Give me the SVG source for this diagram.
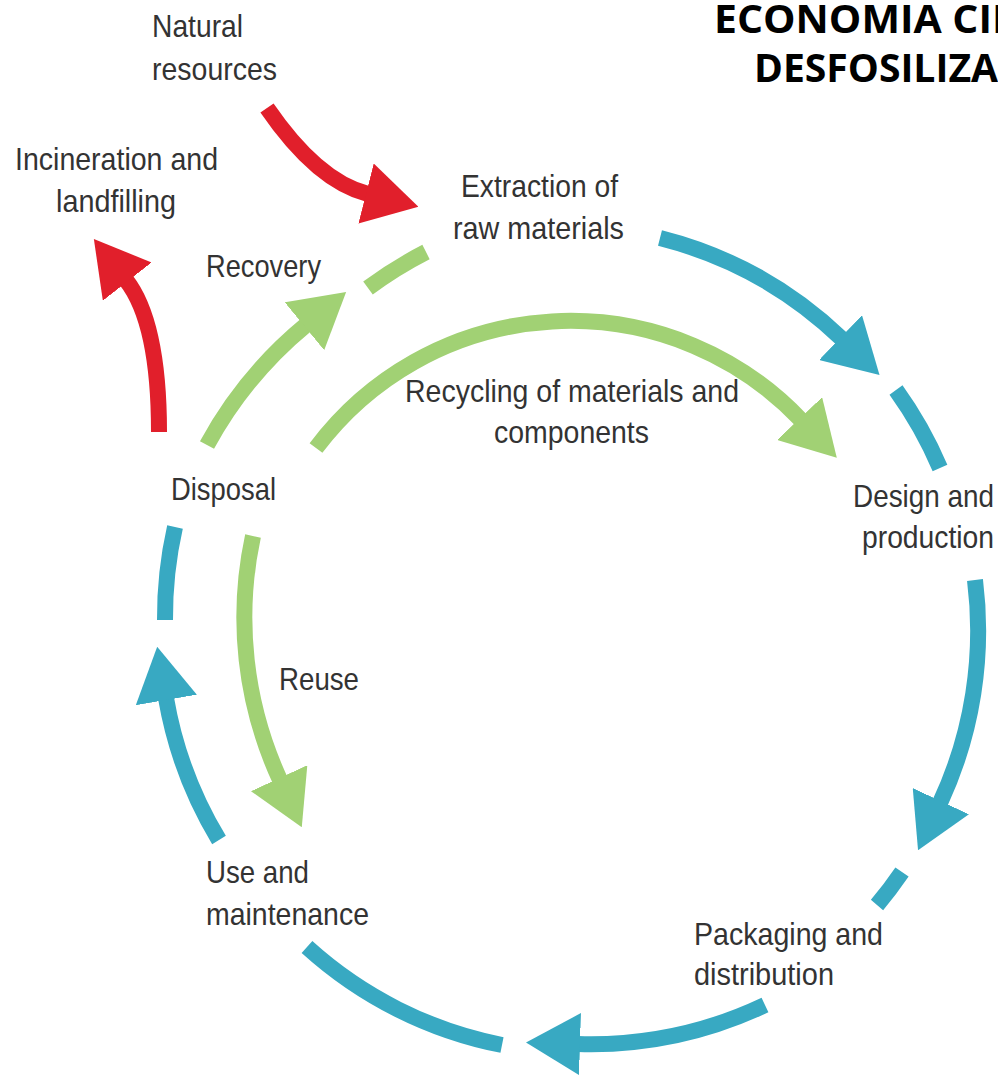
<svg xmlns="http://www.w3.org/2000/svg" width="998" height="1077" viewBox="0 0 998 1077">
  <style>
    .lbl { font-family: "Liberation Sans", Arial, sans-serif; font-size: 32px; fill: #333333; }
    .title { font-family: "Open Sans", "Liberation Sans", sans-serif; font-weight: 700; font-size: 40px; fill: #000000; }
    .flow { fill: none; stroke-width: 16; stroke-linecap: butt; }
    .teal { stroke: #38A9C2; }
    .green { stroke: #A1D174; }
    .red { stroke: #E11F2B; }
  </style>
  <defs>
    <marker id="headTeal" markerUnits="userSpaceOnUse" markerWidth="54" markerHeight="62" refX="2" refY="31" orient="auto">
      <path d="M0,0 L54,31 L0,62 Z" fill="#38A9C2"/>
    </marker>
    <marker id="headGreen" markerUnits="userSpaceOnUse" markerWidth="54" markerHeight="62" refX="2" refY="31" orient="auto">
      <path d="M0,0 L54,31 L0,62 Z" fill="#A1D174"/>
    </marker>
    <marker id="headRed" markerUnits="userSpaceOnUse" markerWidth="54" markerHeight="62" refX="2" refY="31" orient="auto">
      <path d="M0,0 L54,31 L0,62 Z" fill="#E11F2B"/>
    </marker>
  </defs>

  <rect x="0" y="0" width="998" height="1077" fill="#ffffff"/>

  <!-- heading, cut off by the right edge -->
  <g id="heading">
    <text class="title" x="714" y="33" textLength="305" lengthAdjust="spacingAndGlyphs">ECONOMIA CIR</text>
    <text class="title" x="754" y="82" textLength="244" lengthAdjust="spacingAndGlyphs">DESFOSILIZA</text>
  </g>

  <!-- connectors -->
  <g id="connectors">
    <!-- main cycle (teal) -->
    <path class="flow teal" d="M660,238 A408,408 0 0 1 842,339" marker-end="url(#headTeal)"/>
    <path class="flow teal" d="M896,390 A408,408 0 0 1 940,468"/>
    <path class="flow teal" d="M975,580 A408,408 0 0 1 940,803" marker-end="url(#headTeal)"/>
    <path class="flow teal" d="M902,872 A408,408 0 0 1 877,905"/>
    <path class="flow teal" d="M765,1005 A408,408 0 0 1 578,1044" marker-end="url(#headTeal)"/>
    <path class="flow teal" d="M502,1045 A408,408 0 0 1 307,947"/>
    <path class="flow teal" d="M219,840 A408,408 0 0 1 166,698" marker-end="url(#headTeal)"/>
    <path class="flow teal" d="M165,620 A408,408 0 0 1 175,527"/>

    <!-- loops back (green) -->
    <path class="flow green" d="M207,445 A408,408 0 0 1 306,325" marker-end="url(#headGreen)"/>
    <path class="flow green" d="M368,288 A408,408 0 0 1 426,252"/>
    <path class="flow green" d="M316,448 A318,318 0 0 1 801,420" marker-end="url(#headGreen)"/>
    <path class="flow green" d="M253,536 A388,388 0 0 0 280,780" marker-end="url(#headGreen)"/>

    <!-- linear inputs and outputs (red) -->
    <path class="flow red" d="M267,108 Q317,181 368,194" marker-end="url(#headRed)"/>
    <path class="flow red" d="M159,432 Q159,322 126,280" marker-end="url(#headRed)"/>
  </g>

  <!-- nodes -->
  <g id="natural-resources">
    <text class="lbl" x="152" y="37" textLength="91" lengthAdjust="spacingAndGlyphs">Natural</text>
    <text class="lbl" x="152" y="80" textLength="125" lengthAdjust="spacingAndGlyphs">resources</text>
  </g>
  <g id="incineration">
    <text class="lbl" x="15" y="170" textLength="203" lengthAdjust="spacingAndGlyphs">Incineration and</text>
    <text class="lbl" x="56" y="212" textLength="120" lengthAdjust="spacingAndGlyphs">landfilling</text>
  </g>
  <g id="extraction">
    <text class="lbl" x="461" y="197" textLength="157" lengthAdjust="spacingAndGlyphs">Extraction of</text>
    <text class="lbl" x="453" y="239" textLength="171" lengthAdjust="spacingAndGlyphs">raw materials</text>
  </g>
  <g id="recovery">
    <text class="lbl" x="206" y="277" textLength="115" lengthAdjust="spacingAndGlyphs">Recovery</text>
  </g>
  <g id="recycling">
    <text class="lbl" x="405" y="402" textLength="334" lengthAdjust="spacingAndGlyphs">Recycling of materials and</text>
    <text class="lbl" x="494" y="443" textLength="155" lengthAdjust="spacingAndGlyphs">components</text>
  </g>
  <g id="disposal">
    <text class="lbl" x="171" y="500" textLength="105" lengthAdjust="spacingAndGlyphs">Disposal</text>
  </g>
  <g id="design">
    <text class="lbl" x="853" y="507" textLength="141" lengthAdjust="spacingAndGlyphs">Design and</text>
    <text class="lbl" x="862" y="548" textLength="132" lengthAdjust="spacingAndGlyphs">production</text>
  </g>
  <g id="reuse">
    <text class="lbl" x="279" y="690" textLength="80" lengthAdjust="spacingAndGlyphs">Reuse</text>
  </g>
  <g id="use">
    <text class="lbl" x="206" y="883" textLength="103" lengthAdjust="spacingAndGlyphs">Use and</text>
    <text class="lbl" x="206" y="925" textLength="163" lengthAdjust="spacingAndGlyphs">maintenance</text>
  </g>
  <g id="packaging">
    <text class="lbl" x="694" y="945" textLength="189" lengthAdjust="spacingAndGlyphs">Packaging and</text>
    <text class="lbl" x="694" y="985" textLength="140" lengthAdjust="spacingAndGlyphs">distribution</text>
  </g>
</svg>
